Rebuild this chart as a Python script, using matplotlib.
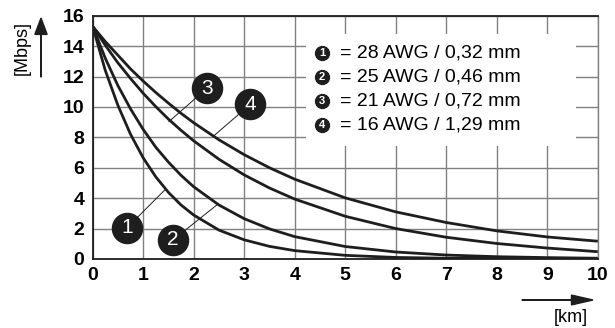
import matplotlib
matplotlib.use("Agg")
import matplotlib.pyplot as plt
from matplotlib.patches import Rectangle

plt.rcParams['font.family'] = ['Liberation Sans', 'DejaVu Sans']

# distance [km] and data rate [Mbps]
km = [0, 0.25, 0.5, 0.75, 1, 1.25, 1.5, 1.75, 2, 2.5, 3, 3.5, 4, 5, 6, 7, 8, 9, 10]
awg28 = [15.3, 12.4, 10.1, 8.2, 6.65, 5.4, 4.38, 3.55, 2.89, 1.9, 1.26, 0.83, 0.55, 0.24, 0.10, 0.05, 0.03, 0.02, 0.01]
awg25 = [15.3, 13.2, 11.4, 9.87, 8.52, 7.35, 6.37, 5.5, 4.75, 3.55, 2.65, 1.98, 1.47, 0.82, 0.46, 0.26, 0.15, 0.09, 0.05]
awg21 = [15.3, 14.06, 12.9, 11.87, 10.9, 10.02, 9.2, 8.46, 7.77, 6.56, 5.53, 4.67, 3.94, 2.81, 2.0, 1.43, 1.02, 0.72, 0.48]
awg16 = [15.3, 14.3, 13.4, 12.5, 11.7, 10.95, 10.25, 9.58, 8.96, 7.84, 6.86, 6.0, 5.25, 4.02, 3.1, 2.4, 1.85, 1.45, 1.17]
series = [awg28, awg25, awg21, awg16]

legend_labels = ["= 28 AWG / 0,32 mm", "= 25 AWG / 0,46 mm",
                 "= 21 AWG / 0,72 mm", "= 16 AWG / 1,29 mm"]
legend_y = [13.53, 12.0, 10.36, 8.84]

# numbered markers: circle position and the point on the curve they point to
marker_xy = [(0.68, 2.05), (1.59, 1.25), (2.26, 11.22), (3.12, 10.17)]
marker_target = [(1.43, 4.55), (2.46, 3.56), (1.51, 9.04), (2.38, 8.05)]

fig = plt.figure(figsize=(6.15, 3.28), dpi=100)
ax = fig.add_axes([0.1507, 0.2104, 0.8213, 0.7416])

for s in series:
    ax.plot(km, s, color='#1e1e1e', linewidth=2.0, zorder=4, solid_capstyle='butt')

ax.set_xlim(0, 10)
ax.set_ylim(0, 16)
ax.set_xticks(range(0, 11))
ax.set_yticks(range(0, 17, 2))
ax.grid(True, color='#808080', linewidth=1.0, zorder=1)
ax.set_axisbelow(True)
ax.tick_params(length=0, labelsize=14, pad=6)
for lab in ax.get_xticklabels() + ax.get_yticklabels():
    lab.set_fontweight('bold')
for side in ['left', 'bottom', 'top']:
    ax.spines[side].set_color('#1e1e1e')
    ax.spines[side].set_linewidth(1.3)
ax.spines['right'].set_color('#808080')
ax.spines['right'].set_linewidth(1.0)

# white legend box
ax.add_patch(Rectangle((4.23, 7.46), 5.33, 7.34, facecolor='white', edgecolor='none', zorder=2))
for i, (lab, y) in enumerate(zip(legend_labels, legend_y)):
    ax.scatter([4.54], [y], s=100, color='#1e1e1e', zorder=5)
    ax.text(4.54, y, str(i + 1), color='white', fontsize=8, fontweight='bold',
            ha='center', va='center', zorder=6)
    ax.text(4.9, y, lab, fontsize=14, ha='left', va='center', zorder=6)

for i, ((mx, my), (tx, ty)) in enumerate(zip(marker_xy, marker_target)):
    ax.plot([mx, tx], [my, ty], color='#1e1e1e', linewidth=0.7, zorder=5)
    ax.scatter([mx], [my], s=470, color='#1e1e1e', zorder=6, clip_on=False)
    ax.text(mx, my, str(i + 1), color='white', fontsize=15, ha='center', va='center', zorder=7)

# axis unit labels with arrows
fig.text(22 / 615, 1 - 48 / 328, "[Mbps]", rotation=90, fontsize=13, ha='center', va='center')
fig.patches.append(matplotlib.patches.FancyArrow(
    41 / 615, 1 - 77 / 328, 0, 59 / 328, width=0.0005, head_width=0.02, head_length=0.05,
    length_includes_head=True, color='#1e1e1e', transform=fig.transFigure, figure=fig))
fig.text(571 / 615, 1 - 318 / 328, "[km]", fontsize=13, ha='center', va='center')
fig.patches.append(matplotlib.patches.FancyArrow(
    522 / 615, 1 - 300 / 328, 71 / 615, 0, width=0.001, head_width=0.03, head_length=0.035,
    length_includes_head=True, color='#1e1e1e', transform=fig.transFigure, figure=fig))

fig.savefig("out.png", dpi=100)
